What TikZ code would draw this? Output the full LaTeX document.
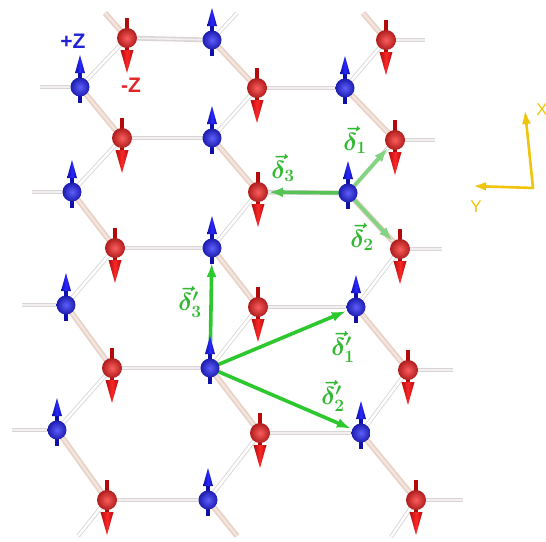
\documentclass[tikz,border=0pt]{standalone}
\usepackage{amsmath}
\usepackage{fontspec}
\setsansfont{Liberation Sans}
\usepackage{xcolor}
\usepackage{tikz}
\usetikzlibrary{arrows.meta}

\definecolor{spinblue}{RGB}{40,40,250}
\definecolor{arrowblue}{RGB}{15,15,170}
\definecolor{spinred}{RGB}{250,40,40}
\definecolor{arrowred}{RGB}{180,10,10}
\definecolor{bondgray}{RGB}{218,212,212}
\definecolor{bondtan}{RGB}{232,208,196}
\definecolor{bondpale}{RGB}{218,215,215}
\definecolor{hopgreen}{RGB}{45,200,45}
\definecolor{hoplight}{RGB}{130,212,130}
\definecolor{hopmid}{RGB}{85,195,85}
\definecolor{labelgreen}{RGB}{50,185,50}
\definecolor{axisyellow}{RGB}{240,196,10}
\definecolor{axisdark}{RGB}{185,150,0}

\tikzset{
  % spin up: blue ball, cone on top
  upspin/.pic={
    \fill[arrowblue] (-1.7,-16) rectangle (1.7,16);
    \shade[inner color=spinblue!75!white, outer color=spinblue!70!black] (0,0) circle (9.5pt);
    \shade[left color=arrowblue, right color=arrowblue, middle color=spinblue]
      (-5,-14) -- (0,-32) -- (5,-14) -- cycle;
  },
  % spin down: red ball, cone below
  downspin/.pic={
    \fill[arrowred] (-1.7,-20) rectangle (1.7,14);
    \shade[inner color=spinred!75!white, outer color=spinred!70!black] (0,0) circle (10pt);
    \shade[left color=arrowred, right color=arrowred, middle color=spinred]
      (-6.5,12) -- (0,35) -- (6.5,12) -- cycle;
  }
}

\begin{document}
\begin{tikzpicture}[x=1pt, y=-1pt,
    hbond/.style={draw=bondgray, line width=1.6pt, double=bondgray!35, double distance=1.6pt},
    sbond/.style={draw=bondtan, line width=1.6pt, double=bondtan!55, double distance=2.4pt},
    pbond/.style={draw=bondpale, line width=0.9pt, double=white, double distance=2.4pt},
    hop/.style={line width=3.6pt, -{Latex[length=14pt,width=10pt]}, shorten >=11pt},
    dlabel/.style={text=labelgreen, inner sep=0pt, font=\fontsize{26}{27}\selectfont\boldmath},
    axis/.style={draw=axisyellow, line width=2.6pt, line join=round}]

    \path[use as bounding box, fill=white] (0,0) rectangle (546,541);

    % Sites
    \foreach \i/\x/\y in {1/212/40, 2/80/87, 3/345/88, 4/212/138, 5/72/192, 6/348/193, 7/212/248,
        8/66/305, 9/356/307, 10/210/368, 11/57/430, 12/361/433, 13/208/500}
        \coordinate (u\i) at (\x,\y);
    \foreach \i/\x/\y in {1/127/38, 2/386/40, 3/257/88, 4/122/138, 5/395/140, 6/258/192, 7/115/248,
        8/400/249, 9/258/307, 10/112/368, 11/408/370, 12/260/433, 13/107/500, 14/416/500}
        \coordinate (d\i) at (\x,\y);

    % Loose bond ends at the border
    \foreach \n/\x/\y in {hu2/40/87, hu5/32/192, hu8/22/305, hu11/12/430, hd2/425/40, hd5/435/140,
        hd8/442/249, hd11/453/370, hd14/463/500, sd1/105/13, sd2/363/13, su13/237/536,
        pu1/237/13, pd13/78/536, pd14/391/537}
        \coordinate (\n) at (\x,\y);

    % Bonds
    \foreach \a/\b in {d1/u1, d3/u3, d4/u4, d6/u6, d7/u7, d9/u9, d10/u10, d12/u12, d13/u13,
        u2/hu2, u5/hu5, u8/hu8, u11/hu11, d2/hd2, d5/hd5, d8/hd8, d11/hd11, d14/hd14}
        \draw[hbond] (\a) -- (\b);
    \foreach \a/\b in {u2/d1, u4/d3, u5/d4, u7/d6, u8/d7, u10/d9, u11/d10, u13/d12,
        u3/d2, u6/d5, u9/d8, u12/d11, u1/pu1, d13/pd13, d14/pd14}
        \draw[pbond] (\a) -- (\b);
    \foreach \a/\b in {u1/d3, u2/d4, u4/d6, u5/d7, u7/d9, u8/d10, u10/d12, u11/d13,
        u3/d5, u6/d8, u9/d11, u12/d14, d1/sd1, d2/sd2, u13/su13}
        \draw[sbond] (\a) -- (\b);

    % Nearest neighbour vectors
    \draw[hop, hoplight] (u6) -- (d5);
    \draw[hop, hoplight] (u6) -- (d8);
    \draw[hop, hopmid] (u6) -- (d6);
    % Next nearest neighbour vectors
    \draw[hop, hopgreen] (u10) -- (u9);
    \draw[hop, hopgreen] (u10) -- (u12);
    \draw[hop, hopgreen, shorten >=15pt] (u10) -- (u7);

    % Spins
    \foreach \i in {1,...,13} \pic at (u\i) {upspin};
    \foreach \i in {1,...,14} \pic at (d\i) {downspin};

    % Labels
    \node[dlabel] (del1) at (355,140) {$\vec{\delta}_1$};
    \node[dlabel] (del2) at (362,237) {$\vec{\delta}_2$};
    \node[dlabel] (del3) at (283,168) {$\vec{\delta}_3$};
    \node[dlabel] (del1p) at (343,347) {$\vec{\delta}'_1$};
    \node[dlabel] (del2p) at (333,396) {$\vec{\delta}'_2$};
    \node[dlabel] (del3p) at (190,302) {$\vec{\delta}'_3$};
    \node[text=spinblue!85!black, inner sep=0pt, font=\sffamily\bfseries\fontsize{21}{21}\selectfont] (plusz) at (73,41) {+Z};
    \node[text=spinred!90!black, inner sep=0pt, font=\sffamily\bfseries\fontsize{21}{21}\selectfont] (minusz) at (131,85) {-Z};

    % Axes
    \coordinate (O) at (533,188);
    \coordinate (xend) at (525,110);
    \coordinate (yend) at (473,186);
    \draw[axis, {Latex[length=13pt,width=9pt]}-{Latex[length=14pt,width=9pt,fill=axisdark]}] (yend) -- (O) -- (xend);
    \node[text=axisyellow, inner sep=0pt, font=\sffamily\fontsize{17}{17}\selectfont] (xlab) at (542,110) {X};
    \node[text=axisyellow, inner sep=0pt, font=\sffamily\fontsize{17}{17}\selectfont] (ylab) at (476,207) {Y};
\end{tikzpicture}
\end{document}
